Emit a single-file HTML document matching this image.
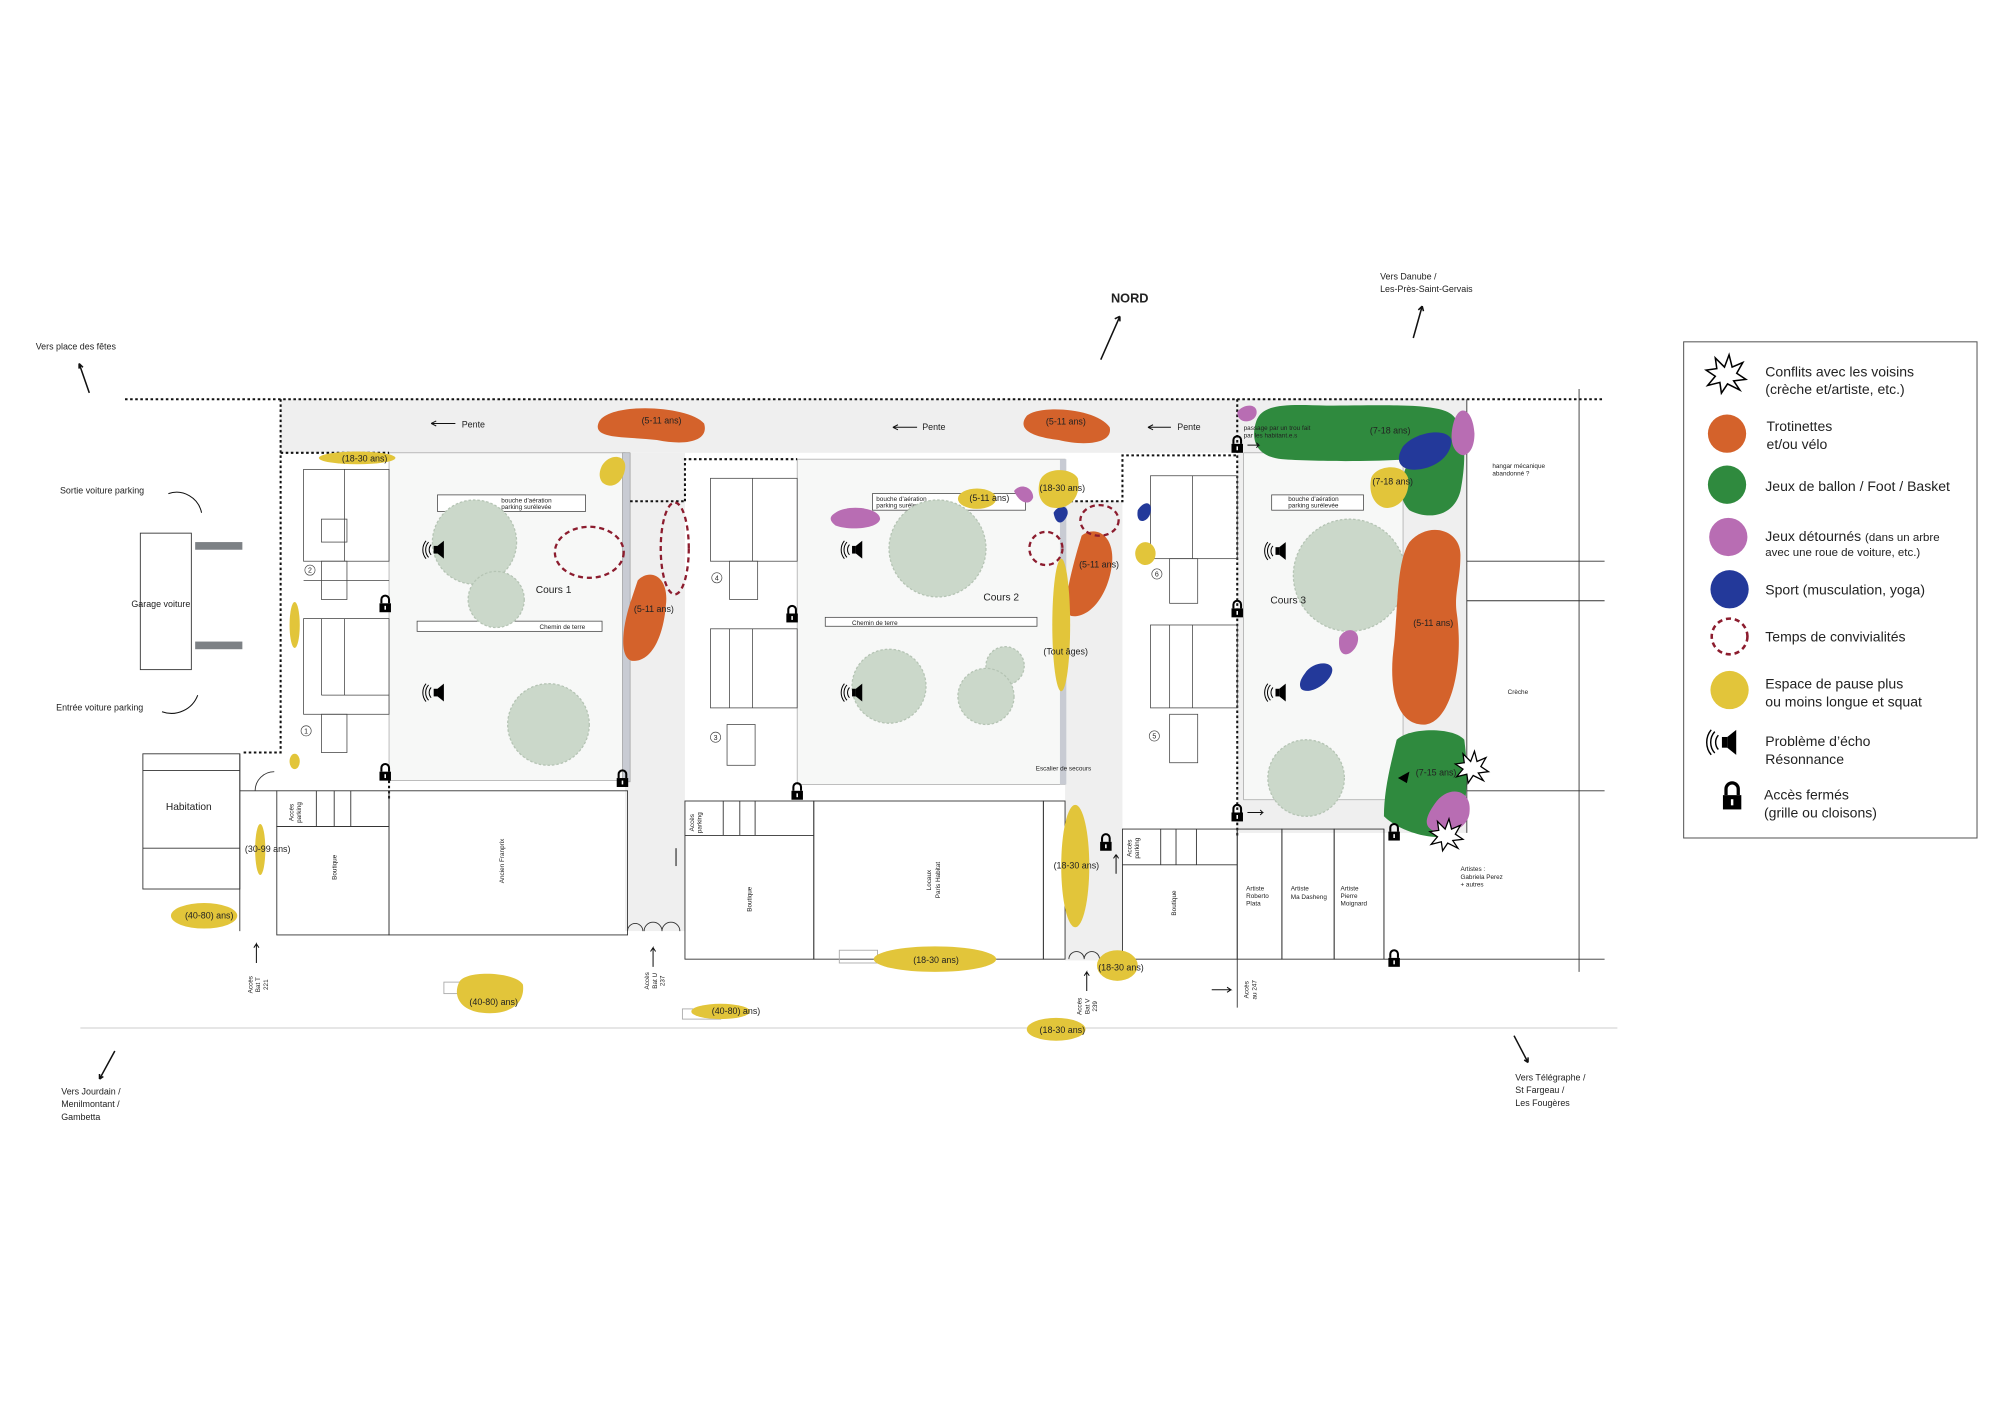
<!DOCTYPE html>
<html><head><meta charset="utf-8"><style>
html,body{margin:0;padding:0;background:#fff}
svg{display:block}
text{font-family:"Liberation Sans",sans-serif;fill:#222}
</style></head><body>
<svg width="2000" height="1414" viewBox="0 0 1568 1108.6" xmlns="http://www.w3.org/2000/svg">
<defs>
<g id="lock"><path d="M-3,-1 v-3 a3,3 0 0 1 6,0 v3" fill="none" stroke="#000" stroke-width="1.6"/><rect x="-4.5" y="-1" width="9" height="7" fill="#000"/><rect x="-0.6" y="1" width="1.2" height="3" fill="#fff"/></g>
<g id="spk"><rect x="0" y="-3" width="3" height="6" fill="#000"/><path d="M3,-3 L8,-7 L8,7 L3,3Z" fill="#000"/><path d="M-2,-4 a6,6 0 0 0 0,8 M-4,-6 a9,9 0 0 0 0,12 M-6,-7 a11,11 0 0 0 0,14" fill="none" stroke="#000" stroke-width="0.8"/></g>
<g id="tree"><circle r="1" fill="#c6d4c5"/></g>
<g id="boom"><path d="M-12,-4 L-5,-5 L-6,-12 L0,-6 L3,-14 L5,-6 L12,-9 L8,-2 L14,2 L6,3 L10,9 L2,5 L-2,11 L-3,4 L-11,6 L-6,0Z" fill="#fff" stroke="#000" stroke-width="1"/></g>
</defs>

<!-- street band & grays -->
<rect x="220" y="313" width="930" height="42" fill="#efefef"/>
<rect x="970" y="313" width="180" height="340" fill="#efefef"/>
<rect x="490" y="355" width="47" height="375" fill="#efefef"/>
<rect x="835" y="393" width="45" height="360" fill="#efefef"/>
<!-- courtyards -->
<rect x="305" y="355" width="185" height="257" fill="#f7f8f7" stroke="#aaa" stroke-width="0.6"/>
<rect x="488" y="355" width="6" height="258" fill="#c8cbd3" stroke="#888" stroke-width="0.4"/>
<rect x="625" y="360" width="210" height="255" fill="#f7f8f7" stroke="#aaa" stroke-width="0.6"/>
<rect x="831" y="360" width="5" height="255" fill="#c8cbd3"/>
<rect x="975" y="355" width="125" height="272" fill="#f7f8f7" stroke="#aaa" stroke-width="0.6"/>

<!-- dotted lines -->
<g fill="none" stroke="#111" stroke-width="1.6" stroke-dasharray="2,2">
<line x1="98" y1="313" x2="1258" y2="313"/>
<path d="M220,313 V590 H190"/>
<path d="M220,355 H305"/>
<path d="M537,393 V360 H625"/>
<path d="M494,393 H537"/>
<path d="M835,393 H880 V357 H970"/>
<path d="M970,313 V655"/>
<path d="M305,612 V628"/>
</g>

<!-- left buildings -->
<g fill="none" stroke="#444" stroke-width="0.6">
<rect x="238" y="368" width="67" height="72"/><line x1="270" y1="368" x2="270" y2="440"/><rect x="252" y="407" width="20" height="18"/>
<rect x="252" y="440" width="20" height="30"/><line x1="238" y1="455" x2="305" y2="455"/>
<rect x="238" y="485" width="67" height="75"/><line x1="252" y1="485" x2="252" y2="545"/><line x1="270" y1="485" x2="270" y2="545"/><line x1="252" y1="545" x2="305" y2="545"/>
<rect x="252" y="560" width="20" height="30"/>
<rect x="557" y="375" width="68" height="65"/><line x1="590" y1="375" x2="590" y2="440"/><rect x="572" y="440" width="22" height="30"/>
<rect x="557" y="493" width="68" height="62"/><line x1="572" y1="493" x2="572" y2="555"/><line x1="590" y1="493" x2="590" y2="555"/>
<rect x="570" y="568" width="22" height="32"/>
<rect x="902" y="373" width="68" height="65"/><line x1="935" y1="373" x2="935" y2="438"/><rect x="917" y="438" width="22" height="35"/>
<rect x="902" y="490" width="68" height="65"/><line x1="917" y1="490" x2="917" y2="555"/><line x1="935" y1="490" x2="935" y2="555"/>
<rect x="917" y="560" width="22" height="38"/>
</g>
<g font-size="5.5" text-anchor="middle" fill="none" stroke="#444" stroke-width="0.5">
<circle cx="243" cy="447" r="4"/><circle cx="240" cy="573" r="4"/><circle cx="562" cy="453" r="4"/><circle cx="561" cy="578" r="4"/><circle cx="907" cy="450" r="4"/><circle cx="905" cy="577" r="4"/>
</g>
<g font-size="5.5" text-anchor="middle">
<text x="243" y="449">2</text><text x="240" y="575">1</text><text x="562" y="455">4</text><text x="561" y="580">3</text><text x="907" y="452">6</text><text x="905" y="579">5</text>
</g>

<!-- bottom buildings -->
<g fill="none" stroke="#333" stroke-width="0.7">
<rect x="217" y="648" width="88" height="85"/><rect x="305" y="620" width="187" height="113"/>
<rect x="217" y="620" width="88" height="28"/><line x1="248" y1="620" x2="248" y2="648"/><line x1="262" y1="620" x2="262" y2="648"/><line x1="275" y1="620" x2="275" y2="648"/>
<rect x="537" y="628" width="101" height="124"/><line x1="537" y1="655" x2="638" y2="655"/><line x1="567" y1="628" x2="567" y2="655"/><line x1="580" y1="628" x2="580" y2="655"/><line x1="592" y1="628" x2="592" y2="655"/>
<rect x="638" y="628" width="180" height="124"/><rect x="818" y="628" width="17" height="124"/>
<rect x="880" y="650" width="90" height="102"/><line x1="880" y1="678" x2="970" y2="678"/><line x1="910" y1="650" x2="910" y2="678"/><line x1="922" y1="650" x2="922" y2="678"/><line x1="938" y1="650" x2="938" y2="678"/>
<rect x="970" y="650" width="35" height="102"/><rect x="1005" y="650" width="41" height="102"/><rect x="1046" y="650" width="39" height="102"/>
<line x1="1085" y1="650" x2="1085" y2="752"/><line x1="1085" y1="752" x2="1258" y2="752"/>
<rect x="110" y="418" width="40" height="107"/>
<rect x="112" y="591" width="76" height="106"/><line x1="112" y1="604" x2="188" y2="604"/><line x1="112" y1="665" x2="188" y2="665"/>
<line x1="188" y1="591" x2="188" y2="730"/><line x1="188" y1="620" x2="217" y2="620"/>
<line x1="1150" y1="313" x2="1150" y2="653"/>
<line x1="1238" y1="305" x2="1238" y2="762"/>
<line x1="1150" y1="440" x2="1258" y2="440"/><line x1="1150" y1="471" x2="1258" y2="471"/><line x1="1150" y1="620" x2="1258" y2="620"/>
<line x1="970" y1="752" x2="970" y2="790"/>
<rect x="658" y="745" width="30" height="10" stroke="#aaa"/><rect x="348" y="770" width="35" height="9" stroke="#aaa"/><rect x="535" y="791" width="30" height="8" stroke="#aaa"/>
<path d="M200,620 a15,15 0 0 1 15,-15" />
<path d="M505,730 a7,7 0 0 1 14,0 M519,730 a7,7 0 0 1 14,0 M492,730 a6,6 0 0 1 12,0"/>
<path d="M838,752 a6,6 0 0 1 12,0 M850,752 a6,6 0 0 1 12,0"/>
</g>
<line x1="63" y1="806" x2="1268" y2="806" stroke="#ccc" stroke-width="0.8"/>
<rect x="153" y="425" width="37" height="6" fill="#7d8185"/><rect x="153" y="503" width="37" height="6" fill="#7d8185"/>

<!-- aeration boxes -->
<g fill="#fff" stroke="#444" stroke-width="0.6">
<rect x="343" y="388" width="116" height="13"/><rect x="327" y="487" width="145" height="8"/>
<rect x="684" y="387" width="120" height="13"/><rect x="647" y="484" width="166" height="7"/>
<rect x="997" y="388" width="72" height="12"/>
</g>
<g font-size="5">
<text x="393" y="394">bouche d'aération</text><text x="393" y="399">parking surélevée</text>
<text x="423" y="493">Chemin de terre</text>
<text x="687" y="393">bouche d'aération</text><text x="687" y="398">parking surélevée</text>
<text x="668" y="490">Chemin de terre</text>
<text x="1010" y="393">bouche d'aération</text><text x="1010" y="398">parking surélevée</text>
</g>

<!-- trees -->
<g fill="#cbd8ca" stroke="#b5c4b4" stroke-width="1" stroke-dasharray="2,1.5">
<circle cx="372" cy="425" r="33"/><circle cx="389" cy="470" r="22"/><circle cx="430" cy="568" r="32"/>
<circle cx="735" cy="430" r="38"/><circle cx="697" cy="538" r="29"/><circle cx="788" cy="522" r="15"/><circle cx="773" cy="546" r="22"/>
<circle cx="1058" cy="451" r="44"/><circle cx="1024" cy="610" r="30"/>
</g>

<!-- blobs -->
<g>
<path d="M470,330 C480,315 540,318 552,332 C556,345 540,350 515,345 C490,342 462,345 470,330Z" fill="#d4622b"/>
<path d="M500,455 C510,445 525,452 522,475 C520,500 510,520 495,518 C485,515 488,490 495,470Z" fill="#d4622b"/>
<path d="M805,326 C815,317 860,320 870,335 C873,348 850,350 830,345 C805,342 798,335 805,326Z" fill="#d4622b"/>
<path d="M848,420 C858,412 873,418 872,440 C870,465 855,485 840,483 C832,480 838,455 845,430Z" fill="#d4622b"/>
<path d="M1105,425 C1120,408 1145,415 1145,435 C1145,455 1140,465 1142,480 C1148,520 1138,565 1118,568 C1095,570 1088,540 1093,505 C1096,475 1095,440 1105,425Z" fill="#d4622b"/>
<path d="M985,330 C990,316 1010,317 1040,318 C1080,318 1120,316 1135,323 C1150,330 1150,360 1145,385 C1140,405 1120,408 1105,400 C1095,390 1098,375 1105,360 C1080,362 1030,362 1005,360 C985,358 980,345 985,330Z" fill="#2f8a3e"/>
<path d="M1095,580 C1105,570 1140,570 1148,580 C1152,610 1150,640 1140,655 C1120,660 1095,650 1085,640 C1085,620 1090,600 1095,580Z" fill="#2f8a3e"/>
<path d="M970,323 C975,316 987,316 985,325 C983,332 970,333 970,323Z" fill="#b86db3"/>
<path d="M1140,330 C1145,315 1155,322 1156,340 C1156,355 1148,360 1143,355 C1137,350 1137,340 1140,330Z" fill="#b86db3"/>
<path d="M1050,500 C1055,490 1068,493 1064,505 C1060,515 1048,518 1050,500Z" fill="#b86db3"/>
<path d="M1125,630 C1135,615 1155,618 1152,638 C1150,650 1135,655 1125,652 C1115,648 1118,640 1125,630Z" fill="#b86db3"/>
<path d="M655,402 C665,395 690,398 690,407 C688,415 665,416 655,412 C650,408 650,405 655,402Z" fill="#b86db3"/>
<path d="M795,385 C800,378 810,382 810,390 C808,396 800,396 795,385Z" fill="#b86db3"/>
<path d="M1100,350 C1110,338 1135,335 1138,345 C1138,360 1120,370 1105,368 C1095,366 1095,358 1100,350Z" fill="#23399a"/>
<path d="M1023,528 C1030,517 1048,518 1044,528 C1040,538 1025,545 1020,540 C1018,536 1020,532 1023,528Z" fill="#23399a"/>
<path d="M826,402 C830,395 838,396 837,403 C835,410 828,414 826,402Z" fill="#23399a"/>
<path d="M892,400 C897,392 904,393 902,402 C900,410 890,412 892,400Z" fill="#23399a"/>
<g fill="#e2c53a">
<ellipse cx="280" cy="359" rx="30" ry="5"/>
<path d="M472,365 C478,355 492,356 490,368 C488,380 478,384 472,378 C469,374 470,369 472,365Z"/>
<ellipse cx="231" cy="490" rx="4" ry="18"/><ellipse cx="231" cy="597" rx="4" ry="6"/>
<ellipse cx="204" cy="666" rx="4" ry="20"/>
<ellipse cx="160" cy="718" rx="26" ry="10"/>
<path d="M360,770 C365,760 405,762 410,772 C412,790 395,796 378,794 C360,792 355,780 360,770Z"/>
<ellipse cx="565" cy="793" rx="23" ry="6"/>
<ellipse cx="733" cy="752" rx="48" ry="10"/>
<ellipse cx="843" cy="679" rx="11" ry="48"/>
<ellipse cx="828" cy="807" rx="23" ry="9"/>
<ellipse cx="876" cy="757" rx="16" ry="12"/>
<ellipse cx="832" cy="490" rx="7" ry="52"/>
<path d="M815,378 C818,366 840,366 845,375 C848,390 838,400 825,398 C815,396 813,386 815,378Z"/>
<ellipse cx="766" cy="391" rx="15" ry="8"/>
<ellipse cx="898" cy="434" rx="8" ry="9"/>
<path d="M1075,375 C1078,365 1100,362 1104,375 C1106,390 1095,400 1085,398 C1076,395 1073,385 1075,375Z"/>
</g>
</g>

<!-- conviviality dashed -->
<g fill="none" stroke="#8c1c2e" stroke-width="1.8" stroke-dasharray="4,3">
<ellipse cx="462" cy="433" rx="27" ry="20"/>
<ellipse cx="529" cy="430" rx="11" ry="36"/>
<ellipse cx="820" cy="430" rx="13" ry="13"/>
<ellipse cx="862" cy="408" rx="15" ry="12"/>
</g>

<!-- icons -->
<use href="#spk" x="340" y="431"/><use href="#spk" x="340" y="543"/>
<use href="#spk" x="668" y="431"/><use href="#spk" x="668" y="543"/>
<use href="#spk" x="1000" y="432"/><use href="#spk" x="1000" y="543"/>
<use href="#lock" x="302" y="474"/><use href="#lock" x="302" y="606"/><use href="#lock" x="488" y="611"/>
<use href="#lock" x="621" y="482"/><use href="#lock" x="625" y="621"/><use href="#lock" x="867" y="661"/>
<use href="#lock" x="970" y="478"/><use href="#lock" x="970" y="349"/><use href="#lock" x="970" y="638"/>
<use href="#lock" x="1093" y="653"/><use href="#lock" x="1093" y="752"/>
<use href="#boom" x="1153" y="603" transform="scale(1)"/><use href="#boom" x="1133" y="656"/>
<path d="M1096,610 L1105,605 L1103,614Z" fill="#000"/>

<!-- arrows -->
<g stroke="#111" stroke-width="0.8" fill="none">
<path d="M338,332 H357 M338,332 l4,-2 M338,332 l4,2"/>
<path d="M700,335 H719 M700,335 l4,-2 M700,335 l4,2"/>
<path d="M900,335 H918 M900,335 l4,-2 M900,335 l4,2"/>
<path d="M863,282 L878,248 M878,248 l-4,2 M878,248 l0,4" stroke-width="1.2"/>
<path d="M1108,265 L1115,240 M1115,240 l-3,3 M1115,240 l1,4" stroke-width="1.2"/>
<path d="M70,308 L62,285 M62,285 l0,4 M62,285 l3,3" stroke-width="1.2"/>
<path d="M90,824 L78,846 M78,846 l0,-4 M78,846 l3,-2" stroke-width="1.2"/>
<path d="M1187,812 L1198,833 M1198,833 l-3,-2 M1198,833 l0,-4" stroke-width="1.2"/>
<path d="M201,755 V740 l-2,3 M201,740 l2,3"/>
<path d="M512,758 V743 l-2,3 M512,743 l2,3"/>
<path d="M852,777 V762 l-2,3 M852,762 l2,3"/>
<path d="M950,776 H965 l-3,-2 M965,776 l-3,2"/>
<path d="M978,349 H987 l-2,-2 M987,349 l-2,2"/>
<path d="M978,637 H990 l-2,-2 M990,637 l-2,2"/>
<path d="M875,685 V670 M875,670 l-2,3 M875,670 l2,3"/>
<path d="M530,679 V665"/>
<path d="M132,387 a20,20 0 0 1 26,15"/>
<path d="M127,558 a22,22 0 0 0 28,-13"/>
</g>

<!-- labels -->
<g font-size="7">
<text x="362" y="335">Pente</text><text x="723" y="337">Pente</text><text x="923" y="337">Pente</text>
<text x="503" y="332">(5-11 ans)</text><text x="820" y="333">(5-11 ans)</text>
<text x="497" y="480">(5-11 ans)</text><text x="846" y="445">(5-11 ans)</text><text x="1108" y="491">(5-11 ans)</text>
<text x="1074" y="340">(7-18 ans)</text><text x="1076" y="380">(7-18 ans)</text><text x="1110" y="608">(7-15 ans)</text>
<text x="268" y="362">(18-30 ans)</text><text x="760" y="393">(5-11 ans)</text><text x="815" y="385">(18-30 ans)</text>
<text x="818" y="513">(Tout âges)</text><text x="826" y="681">(18-30 ans)</text>
<text x="716" y="755">(18-30 ans)</text><text x="861" y="761">(18-30 ans)</text><text x="815" y="810">(18-30 ans)</text>
<text x="192" y="668">(30-99 ans)</text><text x="145" y="720">(40-80) ans)</text>
<text x="368" y="788">(40-80) ans)</text><text x="558" y="795">(40-80) ans)</text>
<text x="420" y="465" font-size="8">Cours 1</text><text x="771" y="471" font-size="8">Cours 2</text><text x="996" y="473" font-size="8">Cours 3</text>
<text x="47" y="387">Sortie voiture parking</text>
<text x="44" y="557">Entrée voiture parking</text>
<text x="103" y="476">Garage voiture</text>
<text x="130" y="635" font-size="8">Habitation</text>
<text x="28" y="274">Vers place des fêtes</text>
<text x="1082" y="219">Vers Danube /</text><text x="1082" y="229">Les-Près-Saint-Gervais</text>
<text x="48" y="858">Vers Jourdain /</text><text x="48" y="868">Menilmontant /</text><text x="48" y="878">Gambetta</text>
<text x="1188" y="847">Vers Télégraphe /</text><text x="1188" y="857">St Fargeau /</text><text x="1188" y="867">Les Fougères</text>
<text x="871" y="237" font-size="10" font-weight="bold">NORD</text>
</g>
<g font-size="5">
<text x="1170" y="367">hangar mécanique</text><text x="1170" y="373">abandonné ?</text>
<text x="1182" y="544">Crèche</text>
<text x="1145" y="683">Artistes :</text><text x="1145" y="689">Gabriela Perez</text><text x="1145" y="695">+ autres</text>
<text x="977" y="698">Artiste</text><text x="977" y="704">Roberto</text><text x="977" y="710">Plata</text>
<text x="1012" y="698">Artiste</text><text x="1012" y="705">Ma Dasheng</text>
<text x="1051" y="698">Artiste</text><text x="1051" y="704">Pierre</text><text x="1051" y="710">Moignard</text>
<text x="812" y="604">Escalier de secours</text>
<text x="975" y="337">passage par un trou fait</text><text x="975" y="343">par les habitant.e.s</text>
</g>
<g font-size="5" text-anchor="middle">
<text transform="translate(264,680) rotate(-90)">Boutique</text>
<text transform="translate(395,675) rotate(-90)">Ancien Franprix</text>
<text transform="translate(589,705) rotate(-90)">Boutique</text>
<text transform="translate(730,690) rotate(-90)">Locaux</text><text transform="translate(737,690) rotate(-90)">Paris Habitat</text>
<text transform="translate(922,708) rotate(-90)">Boutique</text>
<text transform="translate(230,637) rotate(-90)">Accès</text><text transform="translate(236,637) rotate(-90)">parking</text>
<text transform="translate(544,645) rotate(-90)">Accès</text><text transform="translate(550,645) rotate(-90)">parking</text>
<text transform="translate(887,665) rotate(-90)">Accès</text><text transform="translate(893,665) rotate(-90)">parking</text>
<text transform="translate(198,772) rotate(-90)">Accès</text><text transform="translate(204,772) rotate(-90)">Bat T</text><text transform="translate(210,772) rotate(-90)">221</text>
<text transform="translate(509,769) rotate(-90)">Accès</text><text transform="translate(515,769) rotate(-90)">Bat U</text><text transform="translate(521,769) rotate(-90)">237</text>
<text transform="translate(848,789) rotate(-90)">Accès</text><text transform="translate(854,789) rotate(-90)">Bat V</text><text transform="translate(860,789) rotate(-90)">239</text>
<text transform="translate(979,776) rotate(-90)">Accès</text><text transform="translate(985,776) rotate(-90)">au 247</text>
</g>

<!-- legend -->
<rect x="1320" y="268" width="230" height="389" fill="#fff" stroke="#555" stroke-width="0.8"/>
<g transform="translate(1352,295) scale(1.2)"><use href="#boom"/></g>
<circle cx="1354" cy="340" r="15" fill="#d4622b"/>
<circle cx="1354" cy="380" r="15" fill="#2f8a3e"/>
<circle cx="1355" cy="421" r="15" fill="#b86db3"/>
<circle cx="1356" cy="462" r="15" fill="#23399a"/>
<circle cx="1356" cy="499" r="14" fill="none" stroke="#8c1c2e" stroke-width="2" stroke-dasharray="4,3"/>
<circle cx="1356" cy="541" r="15" fill="#e2c53a"/>
<g transform="translate(1350,582) scale(1.4)"><use href="#spk"/></g>
<g transform="translate(1358,625) scale(1.6)"><use href="#lock"/></g>
<g font-size="11">
<text x="1384" y="295">Conflits avec les voisins</text><text x="1384" y="309">(crèche et/artiste, etc.)</text>
<text x="1385" y="338">Trotinettes</text><text x="1385" y="352">et/ou vélo</text>
<text x="1384" y="385">Jeux de ballon / Foot / Basket</text>
<text x="1384" y="424">Jeux détournés <tspan font-size="9">(dans un arbre</tspan></text><text x="1384" y="436" font-size="9">avec une roue de voiture, etc.)</text>
<text x="1384" y="466">Sport (musculation, yoga)</text>
<text x="1384" y="503">Temps de convivialités</text>
<text x="1384" y="540">Espace de pause plus</text><text x="1384" y="554">ou moins longue et squat</text>
<text x="1384" y="585">Problème d’écho</text><text x="1384" y="599">Résonnance</text>
<text x="1383" y="627">Accès fermés</text><text x="1383" y="641">(grille ou cloisons)</text>
</g>
</svg>
</body></html>
